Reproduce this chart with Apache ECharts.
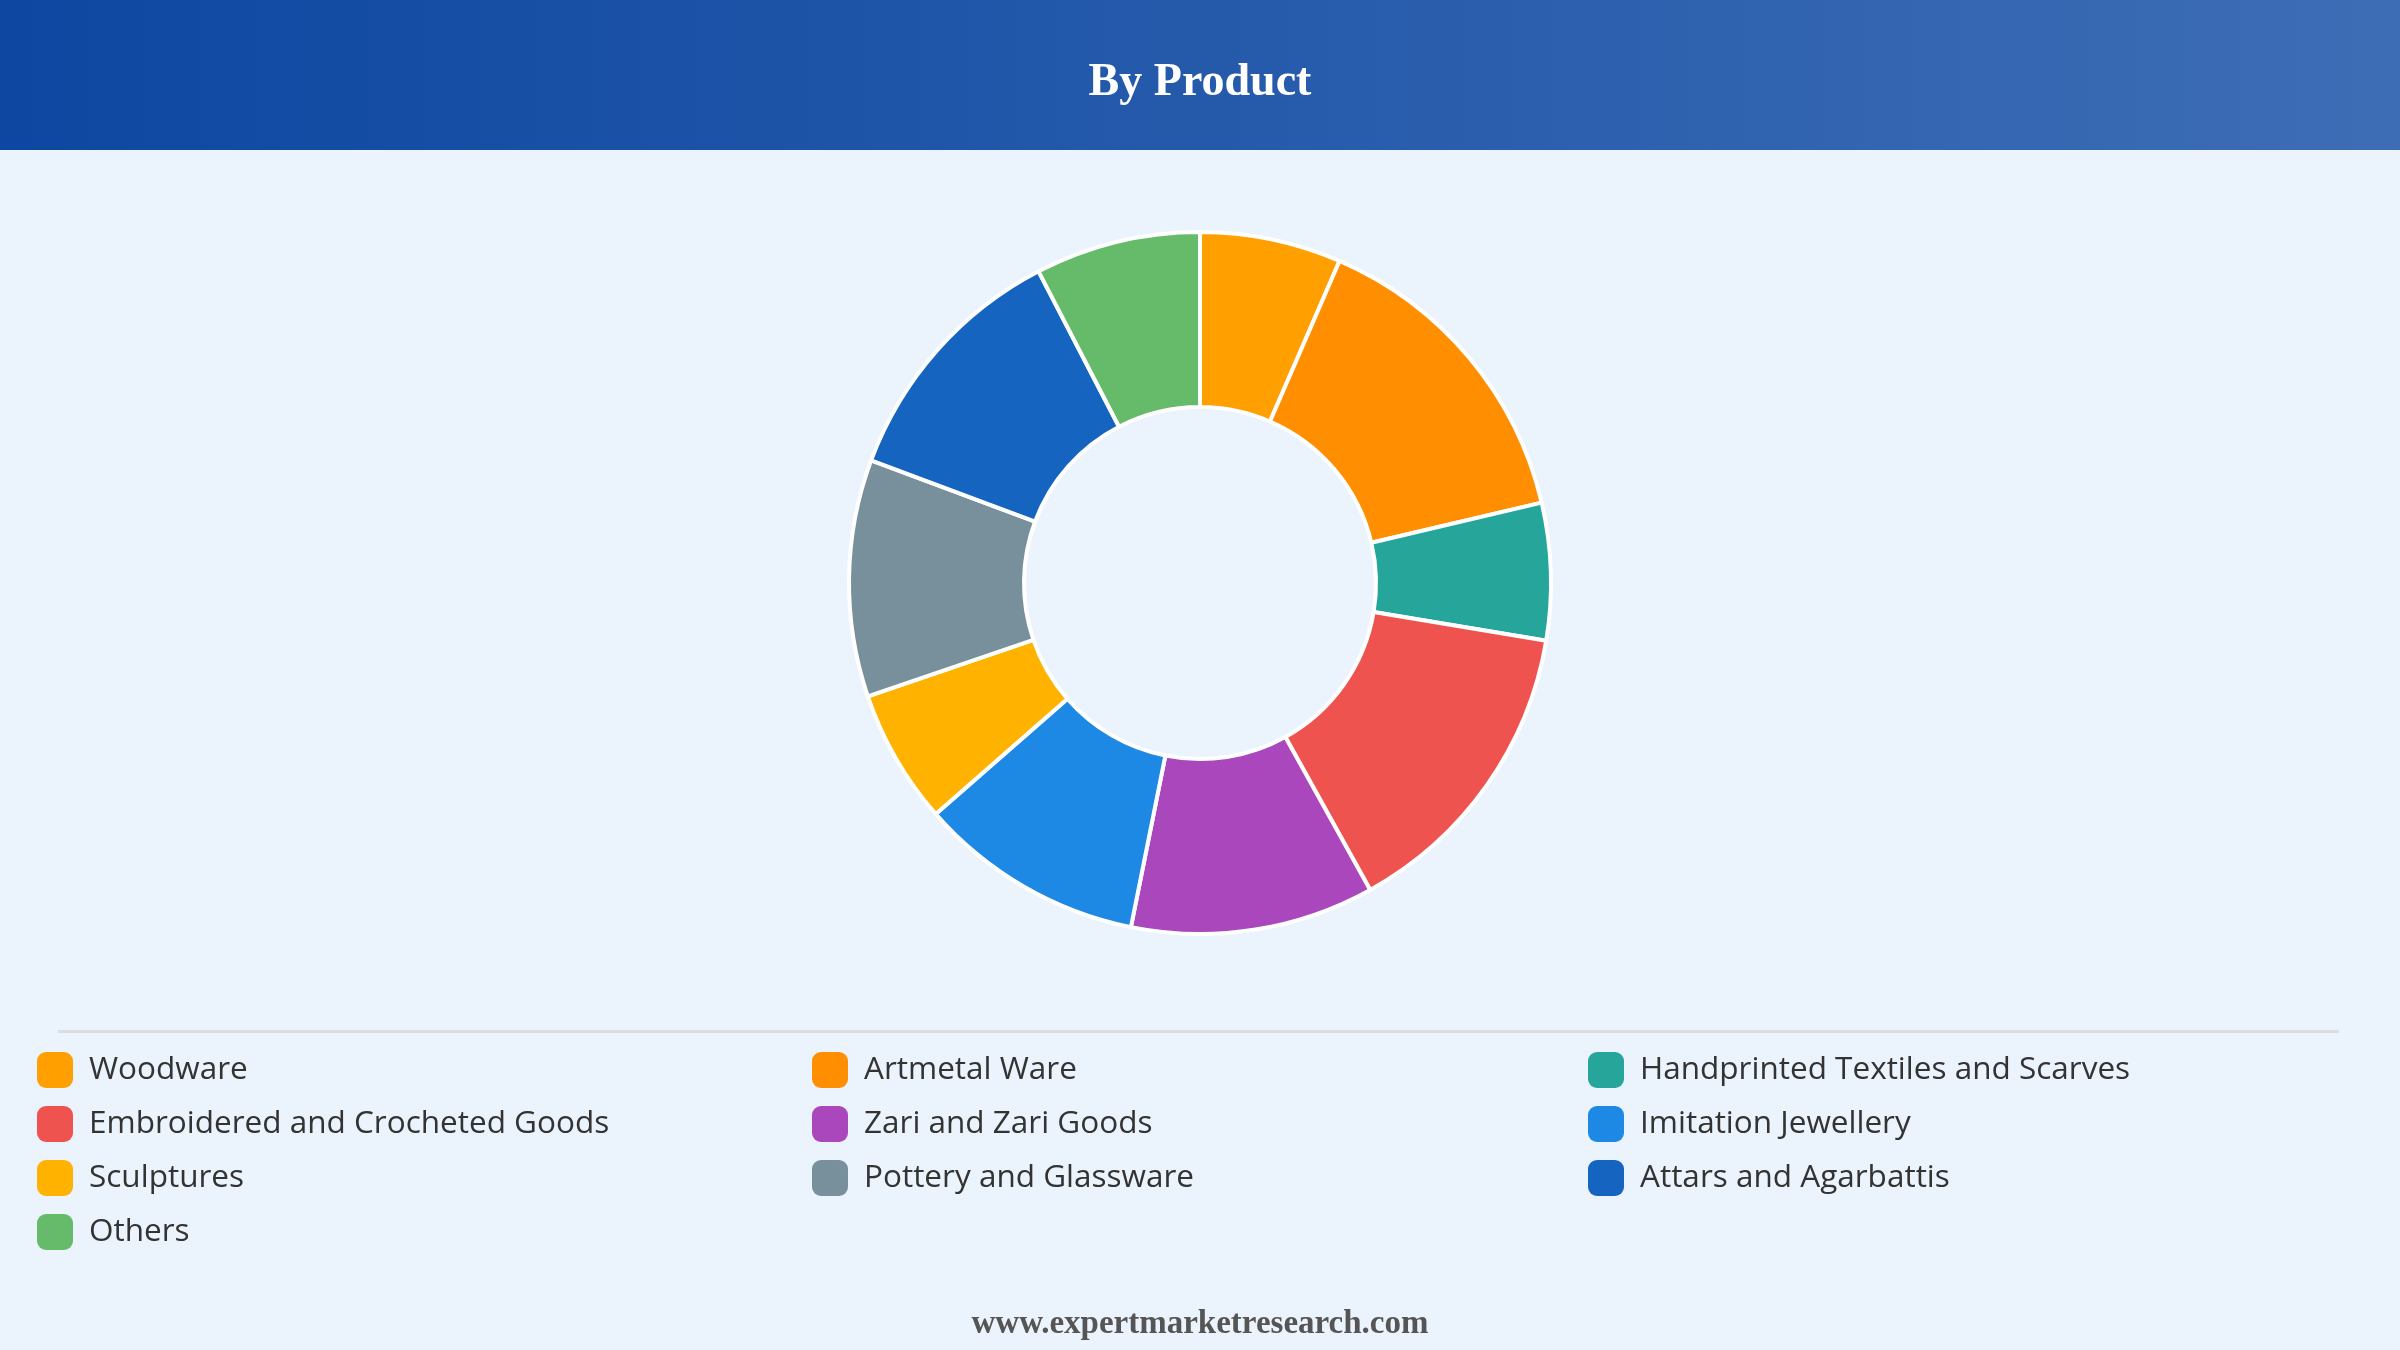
<!DOCTYPE html>
<html>
<head>
<meta charset="utf-8">
<title>By Product</title>
<script src="https://cdn.jsdelivr.net/npm/echarts@6/dist/echarts.min.js"></script>
<style>
  html, body { margin: 0; padding: 0; background: #EBF3FC; }
  #main { width: 2400px; height: 1350px; }
</style>
</head>
<body>
<div id="main"></div>
<script>
var categories = [
  'Woodware', 'Artmetal Ware', 'Handprinted Textiles and Scarves',
  'Embroidered and Crocheted Goods', 'Zari and Zari Goods', 'Imitation Jewellery',
  'Sculptures', 'Pottery and Glassware', 'Attars and Agarbattis',
  'Others'
];
var shares = [6.5, 14.8, 6.3, 14.3, 11.2, 10.4, 6.2, 10.9, 11.7, 7.6];
var colors = ['#FFA000', '#FF8F00', '#26A69A', '#EF5350', '#AB47BC', '#1E88E5',
  '#FFB300', '#78909C', '#1565C0', '#66BB6A'];

var chart = echarts.init(document.getElementById('main'));

var pieData = categories.map(function (name, i) {
  return { name: name, value: shares[i], itemStyle: { color: colors[i] } };
});

// legend laid out in 3 columns, filled row by row
var colX = [37, 812, 1588];
var legends = colX.map(function (x, c) {
  return {
    orient: 'vertical',
    left: x,
    top: 1052,
    padding: 0,
    itemWidth: 36,
    itemHeight: 36,
    itemGap: 18,
    icon: 'roundRect',
    selectedMode: false,
    itemStyle: { borderWidth: 0 },
    data: categories.filter(function (n, i) { return i % 3 === c; }),
    textStyle: {
      fontFamily: 'Open Sans',
      fontSize: 31.5,
      lineHeight: 36,
      color: '#333333',
      padding: [0, 0, 0, 11]
    }
  };
});

var option = {
  backgroundColor: '#EBF3FC',
  animation: false,
  graphic: [
    {
      type: 'rect',
      left: 0, top: 0, z: 0,
      shape: { width: 2400, height: 150 },
      style: {
        fill: new echarts.graphic.LinearGradient(0, 0, 1, 0, [
          { offset: 0, color: '#0D47A1' },
          { offset: 1, color: '#3D6DB5' }
        ])
      }
    },
    {
      type: 'rect',
      left: 58, top: 1030, z: 0,
      shape: { width: 2281, height: 3 },
      style: { fill: '#DADDE2' }
    }
  ],
  title: [
    {
      text: 'By Product',
      left: 'center',
      top: 55,
      textStyle: {
        fontFamily: 'Liberation Serif',
        fontWeight: 'bold',
        fontSize: 46,
        color: '#ffffff'
      }
    },
    {
      text: 'www.expertmarketresearch.com',
      left: 'center',
      top: 1303,
      textStyle: {
        fontFamily: 'Liberation Serif',
        fontWeight: 'bold',
        fontSize: 33,
        color: '#555555'
      }
    }
  ],
  legend: legends,
  series: [
    {
      type: 'pie',
      center: [1200, 583],
      radius: [176, 351],
      startAngle: 90,
      clockwise: true,
      label: { show: false },
      labelLine: { show: false },
      emphasis: { disabled: true },
      itemStyle: { borderColor: '#ffffff', borderWidth: 4 },
      data: pieData
    }
  ]
};

chart.setOption(option);
</script>
</body>
</html>
